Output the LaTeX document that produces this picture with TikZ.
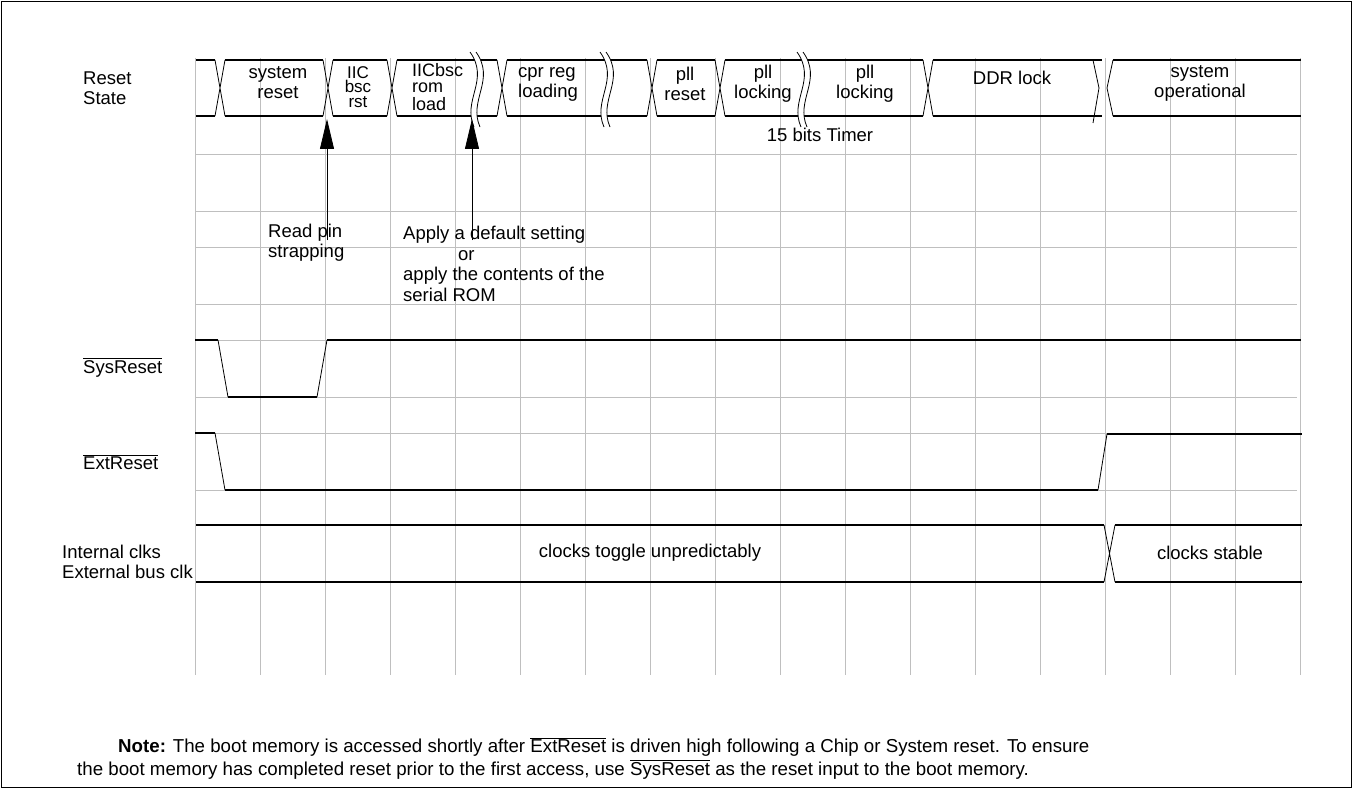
\documentclass[tikz,border=0pt]{standalone}
\usepackage{fontspec}
\setmainfont{Liberation Sans}
\usetikzlibrary{arrows.meta}
\newcommand{\ovl}[1]{$\overline{\mbox{#1}}$}
% break mark over the state bus
\newcommand{\busbreak}[1]{%
  \fill[white] ({#1},52) .. controls ({#1+20},80) and ({#1-8},100) .. ({#1+4},127) -- ({#1+10},127) .. controls ({#1-2},100) and ({#1+26},80) .. ({#1+6},52) -- cycle;
  \draw[slope] ({#1},52) .. controls ({#1+20},80) and ({#1-8},100) .. ({#1+4},127);
  \draw[slope] ({#1+6},52) .. controls ({#1+26},80) and ({#1-2},100) .. ({#1+10},127);}
\tikzset{
  gridline/.style={gray!50, line width=0.8pt},
  level/.style={line width=1.8pt},
  slope/.style={line width=0.8pt},
  txt/.style={font=\fontsize{18.5}{20}\selectfont, inner sep=0pt, align=center},
  sidetxt/.style={txt, align=left, anchor=west},
  notetxt/.style={font=\fontsize{18.7}{20}\selectfont, inner sep=0pt, anchor=base west},
  pointer/.style={line width=0.8pt, -{Triangle[length=30pt,width=14pt]}}
}
\begin{document}
\begin{tikzpicture}[x=1pt,y=-1pt]
  \useasboundingbox (0,0) rectangle (1353,789);
  \draw[line width=1.5pt] (1.5,1.5) rectangle (1351.5,787.5);
  % grid
  \foreach \x in {0,...,17}
    \draw[gridline] ({195+65*\x},58) -- ({195+65*\x},675);
  \foreach \y in {154,211,247,304,340,397,433,490}
    \draw[gridline] (195,\y) -- (1297,\y);

  % reset state bus
  \foreach \a/\b in {196/215,225/323,333/387,397/497,507/647,657/715,725/923,933/1102,1113/1301}
    \draw[level] (\a,60) -- (\b,60) (\a,116) -- (\b,116);
  \foreach \c in {220,328,392,502,652,720,928}
    \draw[slope] ({\c-5},60) -- ({\c+5},116) ({\c+5},60) -- ({\c-5},116);
  \draw[slope] (1093,60) -- (1099,88) -- (1093,123);
  \draw[slope] (1113,60) -- (1107,88) -- (1113,116);
  \busbreak{470}
  \busbreak{600}
  \busbreak{797}

  \node[sidetxt] (state) at (83,88) {Reset\\State};
  \node[txt] (sysrst) at (278,83) {system\\reset};
  \node[txt, font=\fontsize{17}{14.5}\selectfont] (iicrst) at (358,87) {IIC\\bsc\\rst};
  \node[sidetxt, font=\fontsize{18}{18}\selectfont] (romload) at (412,87) {IICbsc\\[-1.5pt]rom\\[0pt]load};
  \node[sidetxt] (cprload) at (518,84) {cpr reg\\loading};
  \node[txt] (pllrst) at (685,84) {pll\\reset};
  \node[txt] (plllock) at (763,84) {pll\\locking};
  \node[txt] (plllockb) at (865,84) {pll\\locking};
  \node[txt] (ddrlock) at (1012,78) {DDR lock};
  \node[txt] (sysop) at (1200,83) {system\\operational};
  \node[txt] (timer) at (820,135) {15 bits Timer};

  % pointers
  \coordinate (strapTip) at (327,119);
  \coordinate (strapEnd) at (327,240);
  \coordinate (romTip) at (472,119);
  \coordinate (romEnd) at (472,240);
  \draw[pointer] (strapEnd) -- (strapTip);
  \draw[pointer] (romEnd) -- (romTip);
  \node[sidetxt] (strap) at (268,243) {Read pin\\strapping};
  \node[sidetxt, font=\fontsize{18.5}{20.5}\selectfont] (apply) at (403,264) {Apply a default setting\\\hspace*{55pt}or\\apply the contents of the\\serial ROM};

  % SysReset
  \node[txt, anchor=base west] (syslbl) at (83,373) {\ovl{SysReset}};
  \draw[level] (195,340) -- (218,340) (228,397) -- (317,397) (327,340) -- (1301,340);
  \draw[slope] (218,340) -- (228,397) (317,397) -- (327,340);

  % ExtReset
  \node[txt, anchor=base west] (extlbl) at (83,469) {\ovl{ExtReset}};
  \draw[level] (195,433) -- (215,433) (225,490) -- (1098,490) (1107,434) -- (1302,434);
  \draw[slope] (215,433) -- (225,490) (1098,490) -- (1107,434);

  % clocks
  \node[sidetxt] (clklbl) at (62,562) {Internal clks\\External bus clk};
  \draw[level] (196,525) -- (1104,525) (196,582) -- (1104,582) (1115,525) -- (1302,525) (1115,582) -- (1302,582);
  \draw[slope] (1104,525) -- (1115,582) (1115,525) -- (1104,582);
  \node[txt] (toggle) at (650,553) {clocks toggle unpredictably};
  \node[txt] (stable) at (1210,553) {clocks stable};

  % note
  \node[notetxt] (note1) at (118,752) {\textbf{Note:} The boot memory is accessed shortly after \ovl{ExtReset} is driven high following a Chip or System reset. To ensure};
  \node[notetxt] (note2) at (77,775) {the boot memory has completed reset prior to the first access, use \ovl{SysReset} as the reset input to the boot memory.};
\end{tikzpicture}
\end{document}
